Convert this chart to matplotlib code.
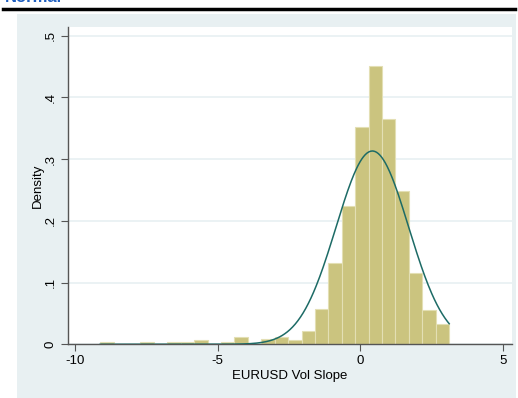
import numpy as np
import matplotlib
matplotlib.use("Agg")
import matplotlib.pyplot as plt
from matplotlib.patches import Rectangle

plt.rcParams['font.family'] = ['Liberation Sans', 'DejaVu Sans']

# histogram of the slope, 26 bins
bin_start = -9.12
bin_width = 0.471
density = [0.0035, 0.0, 0.0, 0.0035, 0.0, 0.0035, 0.0035, 0.0065, 0.0,
           0.0035, 0.012, 0.0, 0.0086, 0.012, 0.0065, 0.021, 0.057, 0.132,
           0.224, 0.352, 0.451, 0.365, 0.248, 0.116, 0.0556, 0.0334]

# fitted normal
mu = 0.43
sigma = 1.274

x_ticks = [-10, -5, 0, 5]
y_ticks = [0, 0.1, 0.2, 0.3, 0.4, 0.5]
y_tick_labels = ['0', '.1', '.2', '.3', '.4', '.5']

bg = '#e8f0f2'
bar_color = '#cbc47f'
line_color = '#1d6b66'

fig = plt.figure(figsize=(5.18, 3.98), dpi=100)
fig.patch.set_facecolor('white')

# shaded graph region
fig.patches.append(Rectangle((17 / 518, 0), 499 / 518, 1 - 14 / 398,
                             transform=fig.transFigure, facecolor=bg,
                             edgecolor='none', zorder=-5))
# header rule and clipped title
fig.add_artist(plt.Line2D([3 / 518, 515 / 518], [1 - 9 / 398, 1 - 9 / 398],
                          transform=fig.transFigure, color='black', lw=2.5))
fig.text(5 / 518, 1 - 2.5 / 398, 'Normal', color='#1f5fc0', fontsize=12,
         fontweight='bold', va='baseline', ha='left')

ax = fig.add_axes([68 / 518, 1 - 344.3 / 398, 444 / 518, (344.3 - 27) / 398])
ax.set_zorder(2)
ax.set_facecolor('white')

edges = bin_start + bin_width * np.arange(len(density) + 1)
ax.bar(edges[:-1], density, width=bin_width, align='edge', color=bar_color,
       edgecolor='#e3dfb4', linewidth=0.8, zorder=2)

xs = np.linspace(edges[0], edges[-1], 400)
pdf = np.exp(-0.5 * ((xs - mu) / sigma) ** 2) / (sigma * np.sqrt(2 * np.pi))
ax.plot(xs, pdf, color=line_color, lw=1.1, zorder=3)

ax.set_xlim(-10.25, 5.33)
ax.set_ylim(0, 0.514)
ax.set_xticks(x_ticks)
ax.set_xticklabels([str(t) for t in x_ticks], fontsize=9.5)
ax.set_yticks(y_ticks)
ax.set_yticklabels(y_tick_labels, fontsize=9.5, rotation=90, va='center')
ax.yaxis.grid(True, color=bg, lw=1.2, zorder=0)
ax.set_axisbelow(True)

for side in ['top', 'right']:
    ax.spines[side].set_visible(False)
for side in ['left', 'bottom']:
    ax.spines[side].set_color('#555555')
    ax.spines[side].set_linewidth(1.0)
ax.tick_params(direction='out', length=5, width=0.8, color='#555555', pad=3)

ax.set_xlabel('EURUSD Vol Slope', fontsize=9.5, labelpad=2)
ax.set_ylabel('Density', fontsize=9.5, labelpad=1)

fig.savefig('out.png', dpi=100, facecolor=fig.get_facecolor())
